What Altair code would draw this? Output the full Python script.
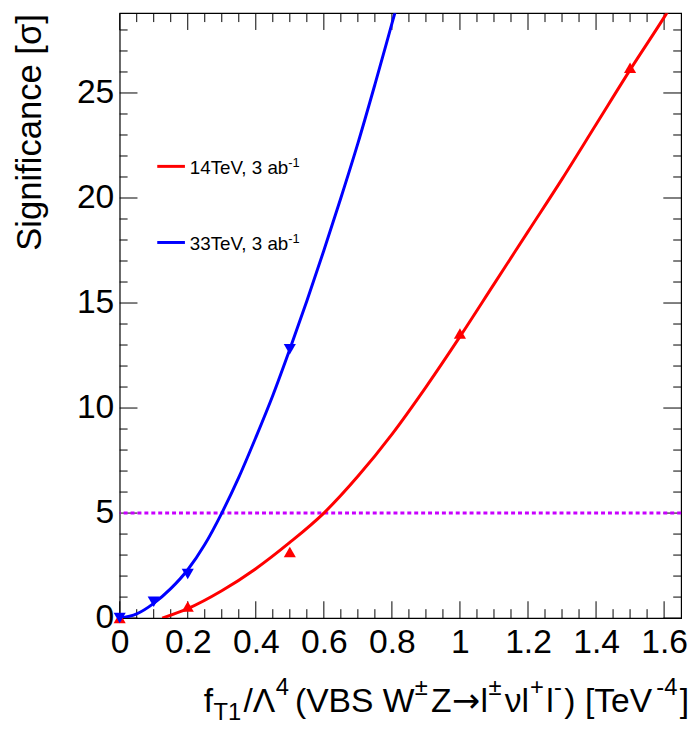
import altair as alt
import pandas as pd

FONT = "Liberation Sans"

# ---------------- data ----------------
red_pts_x = [0.0, 0.2, 0.5, 1.0, 1.5]
red_pts_y = [0.0, 0.55, 3.15, 13.55, 26.2]
blue_pts_x = [0.0, 0.1, 0.2, 0.5]
blue_pts_y = [0.0, 0.78, 2.1, 12.8]

red_fit_x = [0.125, 0.2, 0.3, 0.4, 0.5, 0.6, 0.7, 0.8, 0.9, 1.0, 1.1, 1.2, 1.3, 1.4, 1.5, 1.6, 1.65]
red_fit_y = [0.0, 0.45, 1.3, 2.35, 3.6, 5.0, 6.75, 8.75, 11.0, 13.4, 15.9, 18.4, 20.9, 23.5, 26.1, 28.6, 29.9]

blue_fit_x = [0.0, 0.05, 0.1, 0.15, 0.2, 0.25, 0.3, 0.35, 0.4, 0.45, 0.5, 0.55, 0.6, 0.65, 0.7, 0.75, 0.8, 0.85]
blue_fit_y = [0.0, 0.2, 0.7, 1.4, 2.3, 3.5, 5.0, 6.7, 8.6, 10.6, 12.8, 15.1, 17.5, 20.0, 22.6, 25.4, 28.3, 31.2]

threshold = [5]

x_major = [0, 0.2, 0.4, 0.6, 0.8, 1.0, 1.2, 1.4, 1.6]
x_minor = [0.05, 0.1, 0.15, 0.25, 0.3, 0.35, 0.45, 0.5, 0.55, 0.65, 0.7, 0.75,
           0.85, 0.9, 0.95, 1.05, 1.1, 1.15, 1.25, 1.3, 1.35, 1.45, 1.5, 1.55]
y_major = [0, 5, 10, 15, 20, 25]
y_minor = [1, 2, 3, 4, 6, 7, 8, 9, 11, 12, 13, 14, 16, 17, 18, 19, 21, 22, 23, 24, 26, 27, 28]

legend_labels = ["14TeV, 3 ab", "33TeV, 3 ab"]
legend_sup = "-1"
legend_colors = ["#ff0000", "#0000ff"]

y_title = "Significance [\u03c3]"
# x title pieces: (text, kind) kind n=normal, sub, sup, gap, arrow
x_title_pieces = [("f", "n"), ("T1", "sub"), ("/\u039b", "n"), ("4", "sup"), (" ", "gap"),
                  ("(VBS W", "n"), ("\u00b1", "sup"), ("Z", "n"), ("\u2192", "arrow"), ("l", "n"),
                  ("\u00b1", "sup"), ("\u03bdl", "n"), ("+", "sup"), ("l", "n"), ("-", "sup"),
                  (") [TeV", "n"), ("-4", "sup"), ("]", "n")]

# ---------------- layout ----------------
W, H = 568, 612
X_DOMAIN = [0, 1.65]
Y_DOMAIN = [0, 28.8]
MAJ_V, MIN_V = 17, 9     # x-axis tick lengths
MAJ_H, MIN_H = 18, 8     # y-axis tick lengths

xs = alt.Scale(domain=X_DOMAIN, nice=False, zero=False)
ys = alt.Scale(domain=Y_DOMAIN, nice=False, zero=False)

AX = alt.Axis(values=x_major, format="~g", title=None, domain=False, ticks=False, grid=False,
              labelFont=FONT, labelFontSize=34, labelColor="black", labelPadding=8,
              labelOverlap=False, labelFlush=False, labelBound=False)
AY = alt.Axis(values=y_major, format="d", title=None, domain=False, ticks=False, grid=False,
              labelFont=FONT, labelFontSize=34, labelColor="black", labelPadding=6,
              labelOverlap=False, labelFlush=False, labelBound=False)

ARIAL = {'f': 278, 'T': 611, '1': 556, '/': 278, '\u039b': 667, '4': 556, ' ': 278, '(': 333,
         'V': 667, 'B': 667, 'S': 667, 'W': 944, '\u00b1': 584, 'Z': 611, '\u2192': 838,
         'l': 222, '\u03bd': 521, '+': 584, '-': 333, ')': 333, '[': 278, 'e': 556, ']': 278,
         'a': 556, 'b': 556, ',': 278, '3': 556}


def tw(s, size):
    return sum(ARIAL.get(c, 556) for c in s) * size / 1000.0


def df1(**kw):
    return pd.DataFrame({k: [v] for k, v in kw.items()})


def X(f):
    return alt.X(f, scale=xs, axis=AX)


def Y(f):
    return alt.Y(f, scale=ys, axis=AY)


# frame ticks
def vticks(vals, y0, y1):
    return alt.Chart(pd.DataFrame({"v": vals})).mark_rule(color="black", strokeWidth=1).encode(
        x=X("v:Q"), y=alt.value(y0), y2=alt.value(y1))


def hticks(vals, x0, x1):
    return alt.Chart(pd.DataFrame({"v": vals})).mark_rule(color="black", strokeWidth=1).encode(
        y=Y("v:Q"), x=alt.value(x0), x2=alt.value(x1))


tick_layers = [
    vticks(x_major, H, H - MAJ_V), vticks(x_minor, H, H - MIN_V),
    vticks(x_major, 0, MAJ_V), vticks(x_minor, 0, MIN_V),
    hticks(y_major, 0, MAJ_H), hticks(y_minor, 0, MIN_H),
    hticks(y_major, W, W - MAJ_H), hticks(y_minor, W, W - MIN_H),
]

thr = alt.Chart(pd.DataFrame({"y": threshold})).mark_rule(
    color="#c800ff", strokeWidth=3, strokeDash=[4, 3]).encode(y=Y("y:Q"))

red_fit = alt.Chart(pd.DataFrame({"x": red_fit_x, "y": red_fit_y})).mark_line(
    color="#ff0000", strokeWidth=3, interpolate="monotone", clip=True).encode(x=X("x:Q"), y=Y("y:Q"))
blue_fit = alt.Chart(pd.DataFrame({"x": blue_fit_x, "y": blue_fit_y})).mark_line(
    color="#0000ff", strokeWidth=3, interpolate="monotone", clip=True).encode(x=X("x:Q"), y=Y("y:Q"))

red_pts = alt.Chart(pd.DataFrame({"x": red_pts_x, "y": red_pts_y})).mark_point(
    shape="triangle-up", filled=True, color="#ff0000", size=150, opacity=1).encode(x=X("x:Q"), y=Y("y:Q"))
blue_pts = alt.Chart(pd.DataFrame({"x": blue_pts_x, "y": blue_pts_y})).mark_point(
    shape="triangle-down", filled=True, color="#0000ff", size=150, opacity=1).encode(x=X("x:Q"), y=Y("y:Q"))

# legend
legend_layers = []
LEG_LINE_Y = [155, 232]
LEG_TXT_Y = [163, 240]
for lab, col, ly, ty in zip(legend_labels, legend_colors, LEG_LINE_Y, LEG_TXT_Y):
    legend_layers.append(alt.Chart(df1(a=0)).mark_rule(color=col, strokeWidth=3).encode(
        x=alt.value(38), x2=alt.value(66), y=alt.value(ly)))
    legend_layers.append(alt.Chart(df1(t=lab)).mark_text(
        font=FONT, fontSize=19, align="left", baseline="alphabetic", color="black").encode(
        text="t:N", x=alt.value(71), y=alt.value(ty)))
    legend_layers.append(alt.Chart(df1(t=legend_sup)).mark_text(
        font=FONT, fontSize=13, align="left", baseline="alphabetic", color="black").encode(
        text="t:N", x=alt.value(71 + tw(lab, 19) - 4), y=alt.value(ty - 7)))

# y title
ytitle = alt.Chart(df1(t=y_title)).mark_text(
    font=FONT, fontSize=35, angle=270, align="right", baseline="middle", color="black").encode(
    text="t:N", x=alt.value(-91), y=alt.value(1))

# x title built from pieces
MAIN, SMALL = 34, 24
BASE = 707
rows = []
cx = 85
for s, kind in x_title_pieces:
    if kind == "gap":
        cx += tw(" ", MAIN) * 0.4
        continue
    size = SMALL if kind in ("sub", "sup") else MAIN
    dy = {"n": 0, "arrow": 0, "sub": 8, "sup": -17}[kind]
    fnt = "DejaVu Sans" if kind == "arrow" else FONT
    rows.append({"t": s, "x": cx, "y": BASE + dy, "s": size, "f": fnt})
    cx += tw(s, size) + (2.4 if kind in ("sub", "sup") else 0.4)

xtitle_layers = []
for r in rows:
    xtitle_layers.append(alt.Chart(df1(t=r["t"])).mark_text(
        font=r["f"], fontSize=r["s"], align="left", baseline="alphabetic", color="black").encode(
        text="t:N", x=alt.value(r["x"]), y=alt.value(r["y"])))

chart = alt.layer(
    *tick_layers, thr, red_fit, blue_fit, red_pts, blue_pts,
    *legend_layers, ytitle, *xtitle_layers
).properties(
    width=W, height=H,
    autosize=alt.AutoSizeParams(type="none"),
    padding={"left": 113, "top": 1, "right": 10, "bottom": 109},
    background="white",
).configure_view(stroke="black", strokeWidth=1.2)

chart.save("out.html", embed_options={"renderer": "svg", "actions": False})
